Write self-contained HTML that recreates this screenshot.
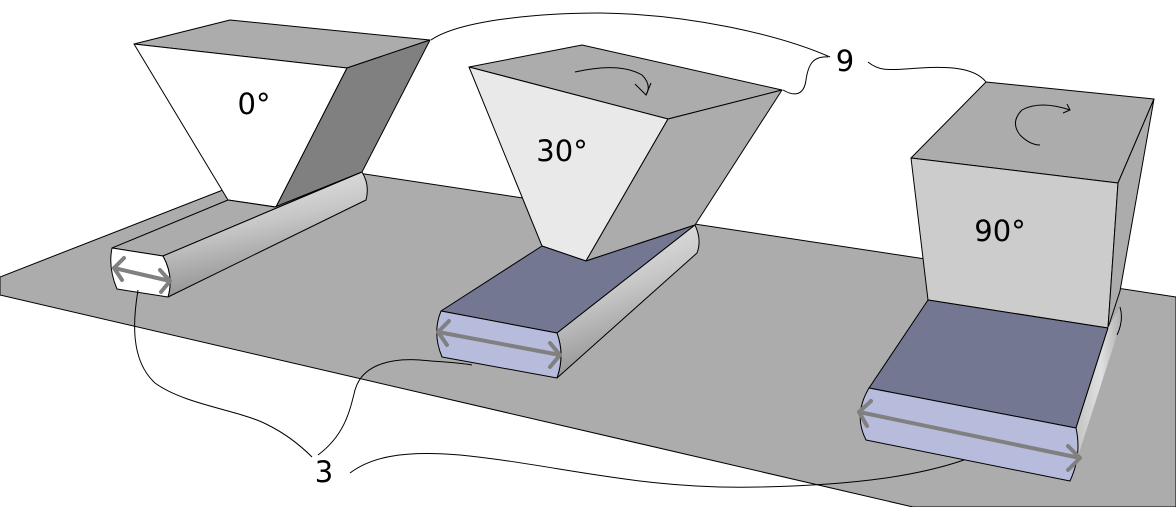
<!DOCTYPE html>
<html><head><meta charset="utf-8"><style>
html,body{margin:0;padding:0;background:#fff;}
svg{display:block;}
text{font-family:"DejaVu Sans","Liberation Sans",sans-serif;fill:#000;}
</style></head><body>
<svg width="1176" height="507" viewBox="0 0 1176 507" xmlns="http://www.w3.org/2000/svg">
<defs>
<linearGradient id="cyl" x1="0" y1="0" x2="0.35" y2="1">
<stop offset="0" stop-color="#f2f2f2"/><stop offset="0.5" stop-color="#c8c8c8"/><stop offset="1" stop-color="#8a8a8a"/>
</linearGradient>
<linearGradient id="cyl2" x1="0" y1="0" x2="1" y2="0">
<stop offset="0" stop-color="#bdbdbd"/><stop offset="0.6" stop-color="#e0e0e0"/><stop offset="1" stop-color="#b0b0b0"/>
</linearGradient>
</defs>
<g stroke="#000" stroke-width="1" stroke-linejoin="round">
<!-- ground -->
<polygon points="0,277 292,163 1176,297 1176,507 913,507 0,295" fill="#acacac"/>

<!-- object 1 -->
<polygon points="134,44 230,20 430,40 347,68" fill="#acacac"/>
<polygon points="134,44 347,68 276,207 228,200" fill="#ffffff"/>
<polygon points="347,68 430,40 362,172 276,207" fill="#808080"/>
<polygon points="112,248 228,200 275,207 362,172 163,256" fill="#acacac"/>
<path d="M163,256 L362,172 Q370,185 366,200 L168,297 Q174,276 163,256 Z" fill="url(#cyl)"/>
<path d="M112,248 L163,256 Q174,276 168,297 L117,289 Q108,268 112,248 Z" fill="#ffffff"/>

<!-- object 2 -->
<polygon points="469,67 582,45 782,90 668,119" fill="#acacac"/>
<polygon points="469,67 668,119 586,261 542,246" fill="#e9e9e9"/>
<polygon points="668,119 782,90 695,225 586,261" fill="#acacac"/>
<polygon points="542,246 586,261 695,225 557,333 441,311" fill="#737791"/>
<path d="M557,333 L695,225 Q702,240 697,253 L557,378 Q565,355 557,333 Z" fill="url(#cyl)"/>
<path d="M441,311 L557,333 Q565,355 557,378 L442,357 Q432,333 441,311 Z" fill="#b8bcdc"/>

<!-- object 3 -->
<polygon points="986,82 1154,99 1118,183 911,158" fill="#acacac"/>
<polygon points="911,158 1118,183 1108,328 928,300" fill="#cccccc"/>
<polygon points="1118,183 1154,99 1120,291 1108,328" fill="#acacac"/>
<polygon points="928,300 1108,328 1076,428 869,388" fill="#737791"/>
<path d="M1076,428 L1108,328 L1120,307 Q1124,320 1117,335 L1070,481 Q1082,455 1076,428 Z" fill="url(#cyl2)" stroke="none"/>
<path d="M1108,328 L1076,428 M1120,307 Q1124,320 1117,335" fill="none"/>
<path d="M869,388 L1076,428 Q1082,455 1070,481 L866,440 Q853,415 869,388 Z" fill="#b8bcdc"/>
</g>

<!-- dimension arrows -->
<g stroke="#808080" stroke-width="4" fill="none" stroke-linecap="round" stroke-linejoin="round">
<path d="M114,268 L170,281 M124,258 L114,268 L122,280 M160,270 L170,281 L161,292"/>
<path d="M438,332 L560,355 M449,321 L438,332 L447,345 M550,343 L560,355 L550,367"/>
<path d="M859,412 L1080,458 M871,401 L859,412 L867,426 M1068,446 L1080,458 L1068,470"/>
</g>

<!-- rotation arrows -->
<g stroke="#000" stroke-width="1" fill="none">
<path d="M575,72 Q620,62 642,75 Q652,85 646,95"/>
<path d="M635,84 L646,95 L651,83"/>
<path d="M1070,110 Q1040,100 1022,110 Q1010,122 1020,135 Q1030,145 1040,145"/>
<path d="M1067,104 L1070,110 L1063,113"/>
</g>

<!-- leader lines -->
<g stroke="#000" stroke-width="1" fill="none">
<path d="M431,40 C460,20 540,13 600,13 C690,14 780,35 830,57"/>
<path d="M828,57 C812,56 808,66 806,80 C804,95 795,97 783,90"/>
<path d="M868,62 C880,72 890,70 920,68 C950,66 975,68 986,82"/>
<path d="M138,290 C133,320 130,360 155,383 C185,405 240,410 268,425 C290,436 305,450 312,457"/>
<path d="M318,455 C345,435 350,410 355,390 C362,365 390,358 420,360 C440,362 455,362 472,365"/>
<path d="M350,473 C370,458 400,450 460,455 C560,465 640,490 760,487 C860,485 920,475 964,460"/>
</g>

<!-- labels -->
<text x="254" y="114" font-size="29" text-anchor="middle">0°</text>
<text x="562" y="161" font-size="29" text-anchor="middle">30°</text>
<text x="1000" y="241" font-size="29" text-anchor="middle">90°</text>
<text x="845" y="71" font-size="29" text-anchor="middle">9</text>
<text x="324" y="482" font-size="29" text-anchor="middle">3</text>
</svg>
</body></html>
